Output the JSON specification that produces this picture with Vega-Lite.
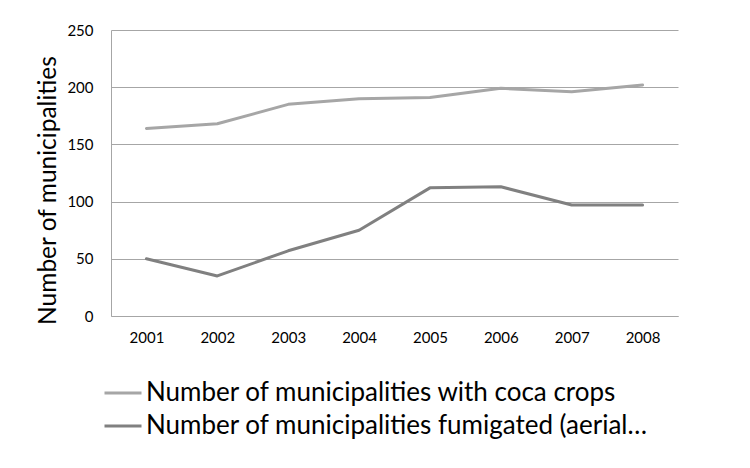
{
  "$schema": "https://vega.github.io/schema/vega-lite/v6.json",
  "autosize": "none",
  "width": 567,
  "height": 286,
  "padding": {"left": 111, "top": 30, "right": 72, "bottom": 152},
  "background": "white",
  "config": {
    "font": "Lato",
    "view": {"stroke": null},
    "axis": {"labelFont": "Lato", "titleFont": "Lato", "labelColor": "#000000", "titleColor": "#000000"}
  },
  "data": {
    "values": [
      {"year": "2001", "series": "Number of municipalities with coca crops", "count": 164},
      {"year": "2002", "series": "Number of municipalities with coca crops", "count": 168},
      {"year": "2003", "series": "Number of municipalities with coca crops", "count": 185},
      {"year": "2004", "series": "Number of municipalities with coca crops", "count": 190},
      {"year": "2005", "series": "Number of municipalities with coca crops", "count": 191},
      {"year": "2006", "series": "Number of municipalities with coca crops", "count": 199},
      {"year": "2007", "series": "Number of municipalities with coca crops", "count": 196},
      {"year": "2008", "series": "Number of municipalities with coca crops", "count": 202},
      {"year": "2001", "series": "Number of municipalities fumigated (aerial spraying)", "count": 50},
      {"year": "2002", "series": "Number of municipalities fumigated (aerial spraying)", "count": 35},
      {"year": "2003", "series": "Number of municipalities fumigated (aerial spraying)", "count": 57},
      {"year": "2004", "series": "Number of municipalities fumigated (aerial spraying)", "count": 75},
      {"year": "2005", "series": "Number of municipalities fumigated (aerial spraying)", "count": 112},
      {"year": "2006", "series": "Number of municipalities fumigated (aerial spraying)", "count": 113},
      {"year": "2007", "series": "Number of municipalities fumigated (aerial spraying)", "count": 97},
      {"year": "2008", "series": "Number of municipalities fumigated (aerial spraying)", "count": 97}
    ]
  },
  "mark": {"type": "line", "strokeWidth": 3, "strokeCap": "round", "strokeJoin": "round"},
  "encoding": {
    "x": {
      "field": "year",
      "type": "ordinal",
      "scale": {"type": "point", "padding": 0.5},
      "axis": {
        "title": null,
        "labelAngle": 0,
        "labelFontSize": 15,
        "labelPadding": 14,
        "ticks": false,
        "grid": false,
        "domainColor": "#A6A6A6",
        "domainWidth": 1
      }
    },
    "y": {
      "field": "count",
      "type": "quantitative",
      "scale": {"domain": [0, 250], "nice": false},
      "axis": {
        "title": "Number of municipalities",
        "titleFontSize": 24.5,
        "titleFontWeight": "normal",
        "titleAngle": -90,
        "titleAlign": "center",
        "titleBaseline": "alphabetic",
        "titleX": -56,
        "titleY": 160,
        "values": [0, 50, 100, 150, 200, 250],
        "labelFontSize": 15,
        "labelPadding": 18,
        "ticks": false,
        "grid": true,
        "gridColor": "#A6A6A6",
        "gridWidth": 1,
        "domainColor": "#A6A6A6",
        "domainWidth": 1
      }
    },
    "color": {
      "field": "series",
      "type": "nominal",
      "scale": {
        "domain": ["Number of municipalities with coca crops", "Number of municipalities fumigated (aerial spraying)"],
        "range": ["#A6A6A6", "#808080"]
      },
      "legend": {
        "title": null,
        "orient": "none",
        "legendX": -8,
        "legendY": 343,
        "symbolType": "stroke",
        "symbolSize": 1369,
        "symbolStrokeWidth": 3,
        "labelFontSize": 26,
        "labelOffset": 3,
        "labelLimit": 620,
        "labelExpr": "truncate(datum.label, 43)",
        "rowPadding": -3.5,
        "labelColor": "#000000"
      }
    }
  }
}
